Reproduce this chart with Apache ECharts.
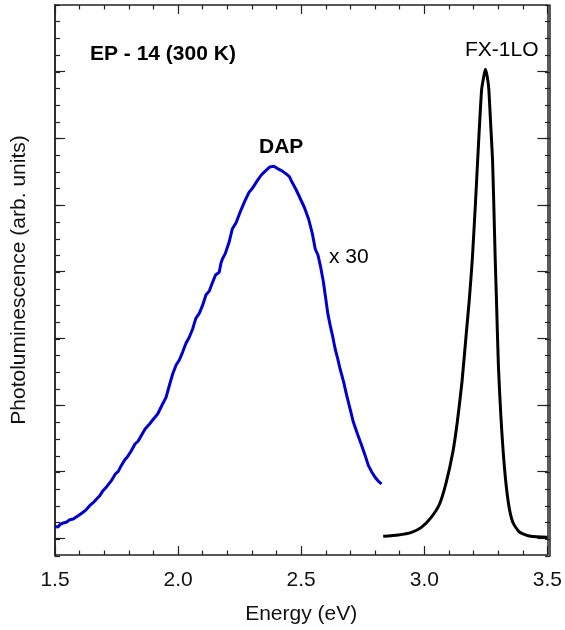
<!DOCTYPE html>
<html>
<head>
<meta charset="utf-8">
<script src="https://cdn.jsdelivr.net/npm/echarts@6/dist/echarts.min.js"></script>
<style>html,body{margin:0;padding:0;background:#fff}#c{width:565px;height:630px}</style>
</head>
<body>
<div id="c"></div>
<script>
// Energy (eV) and intensity (arb. units) pairs
const dapEnergy = [1.500,1.512,1.522,1.534,1.548,1.560,1.574,1.588,1.600,1.614,1.628,1.641,1.655,1.668,1.682,1.695,1.710,1.729,1.745,1.757,1.769,1.783,1.796,1.810,1.825,1.838,1.850,1.866,1.884,1.900,1.917,1.935,1.951,1.965,1.978,1.992,2.005,2.018,2.032,2.045,2.059,2.072,2.086,2.099,2.113,2.127,2.140,2.152,2.167,2.174,2.180,2.192,2.207,2.220,2.236,2.254,2.270,2.288,2.304,2.321,2.338,2.355,2.372,2.389,2.402,2.410,2.422,2.440,2.452,2.463,2.480,2.497,2.513,2.530,2.545,2.557,2.568,2.578,2.590,2.598,2.608,2.618,2.628,2.638,2.648,2.658,2.672,2.685,2.698,2.712,2.730,2.746,2.760,2.773,2.786,2.800,2.812,2.826];
const dapIntensity = [1.71,1.68,1.85,1.92,1.98,2.12,2.16,2.30,2.42,2.56,2.74,2.96,3.14,3.34,3.56,3.86,4.10,4.46,4.86,5.02,5.36,5.70,5.92,6.26,6.66,6.84,7.16,7.56,7.86,8.16,8.46,9.00,9.46,10.20,10.86,11.40,11.70,12.16,12.70,13.05,13.56,14.20,14.50,14.96,15.60,15.85,16.36,16.80,16.96,17.50,17.76,18.10,18.76,19.56,19.95,20.65,21.20,21.76,22.05,22.45,22.80,23.05,23.28,23.32,23.20,23.32,23.05,22.85,22.70,22.36,21.90,21.36,20.85,20.16,19.30,18.36,18.00,17.35,16.40,15.56,14.50,13.76,13.10,12.36,11.80,11.16,10.40,9.56,8.80,7.96,7.20,6.56,5.96,5.36,5.00,4.66,4.45,4.26];
const fxEnergy = [2.833,2.894,2.948,2.988,3.028,3.062,3.089,3.116,3.134,3.153,3.171,3.183,3.195,3.208,3.217,3.224,3.233,3.241,3.248,3.256,3.262,3.270,3.277,3.282,3.288,3.293,3.301,3.311,3.325,3.341,3.359,3.386,3.432,3.500];
const fxIntensity = [1.12,1.20,1.36,1.66,2.26,3.06,4.36,6.18,7.98,10.38,13.38,15.36,17.76,21.18,23.76,25.73,27.95,28.67,29.15,28.67,27.95,25.73,23.76,21.18,17.76,15.36,11.34,8.34,5.34,3.18,1.98,1.38,1.12,1.06];
const xTickLabels = [1.5, 2.0, 2.5, 3.0, 3.5];
const yMajorTicks = [1,5,9,13,17,21,25,29];

const FONT = 'Liberation Sans, Arial, sans-serif';
const AX = '#222';
const chart = echarts.init(document.getElementById('c'));

function yAx(pos, major, gridIndex){
  return {
    type:'value', position:pos, gridIndex:gridIndex, min:0, max:33,
    interval: major ? undefined : 1,
    axisLine:{show:true, lineStyle:{color:AX, width:1.5}},
    axisTick: major
      ? {show:true, inside:true, length:10, customValues:yMajorTicks, lineStyle:{color:AX, width:1.2}}
      : {show:true, inside:true, length:5, lineStyle:{color:AX, width:1.2}},
    axisLabel:{show:false},
    splitLine:{show:false},
    name: (pos==='left' && major) ? 'Photoluminescence (arb. units)' : '',
    nameLocation:'middle', nameGap:25,
    nameTextStyle:{fontFamily:FONT, fontSize:21, color:'#111'}
  };
}
function xAx(pos){
  return {
    type:'value', position:pos, gridIndex:0, min:1.5, max:3.5, interval:0.5,
    axisLine:{show:true, onZero:false, lineStyle:{color:AX, width:1.5}},
    axisTick:{show:true, inside:true, length:9, lineStyle:{color:AX, width:1.2}},
    minorTick:{show:true, splitNumber:5, length:4.5, lineStyle:{color:AX, width:1.2}},
    axisLabel:{show: pos==='bottom', margin:15, fontFamily:FONT, fontSize:21, color:'#111',
      customValues: xTickLabels, formatter: v => v.toFixed(1)},
    splitLine:{show:false}, minorSplitLine:{show:false},
    name: pos==='bottom' ? 'Energy (eV)' : '',
    nameLocation:'middle', nameGap:49,
    nameTextStyle:{fontFamily:FONT, fontSize:21, color:'#111'}
  };
}

const gridRect = {left:55, right:15, top:5, bottom:74, containLabel:false};
chart.setOption({
  animation:false,
  backgroundColor:'#fff',
  grid:[Object.assign({}, gridRect), Object.assign({}, gridRect)],
  xAxis:[xAx('bottom'), xAx('top'),
    {type:'value', gridIndex:1, min:1.5, max:3.5, show:false}],
  yAxis:[yAx('left', true, 0), yAx('right', true, 0), yAx('left', false, 1), yAx('right', false, 1)],
  series:[
    {type:'line', xAxisIndex:0, yAxisIndex:0, showSymbol:false, smooth:false,
     lineStyle:{color:'#0000d0', width:3}, data: dapEnergy.map((e,i)=>[e, dapIntensity[i]])},
    {type:'line', xAxisIndex:0, yAxisIndex:0, showSymbol:false, smooth:0.2,
     lineStyle:{color:'#000', width:3}, data: fxEnergy.map((e,i)=>[e, fxIntensity[i]])}
  ],
  graphic:[
    {type:'text', x:90, y:54, style:{text:'EP - 14 (300 K)', font:'bold 21px '+FONT, fill:'#000', textVerticalAlign:'middle'}},
    {type:'text', x:259, y:147.5, style:{text:'DAP', font:'bold 21px '+FONT, fill:'#000', textVerticalAlign:'middle'}},
    {type:'text', x:329, y:257.5, style:{text:'x 30', font:'21px '+FONT, fill:'#000', textVerticalAlign:'middle'}},
    {type:'text', x:465, y:50, style:{text:'FX-1LO', font:'21px '+FONT, fill:'#000', textVerticalAlign:'middle'}}
  ]
});
</script>
</body>
</html>
